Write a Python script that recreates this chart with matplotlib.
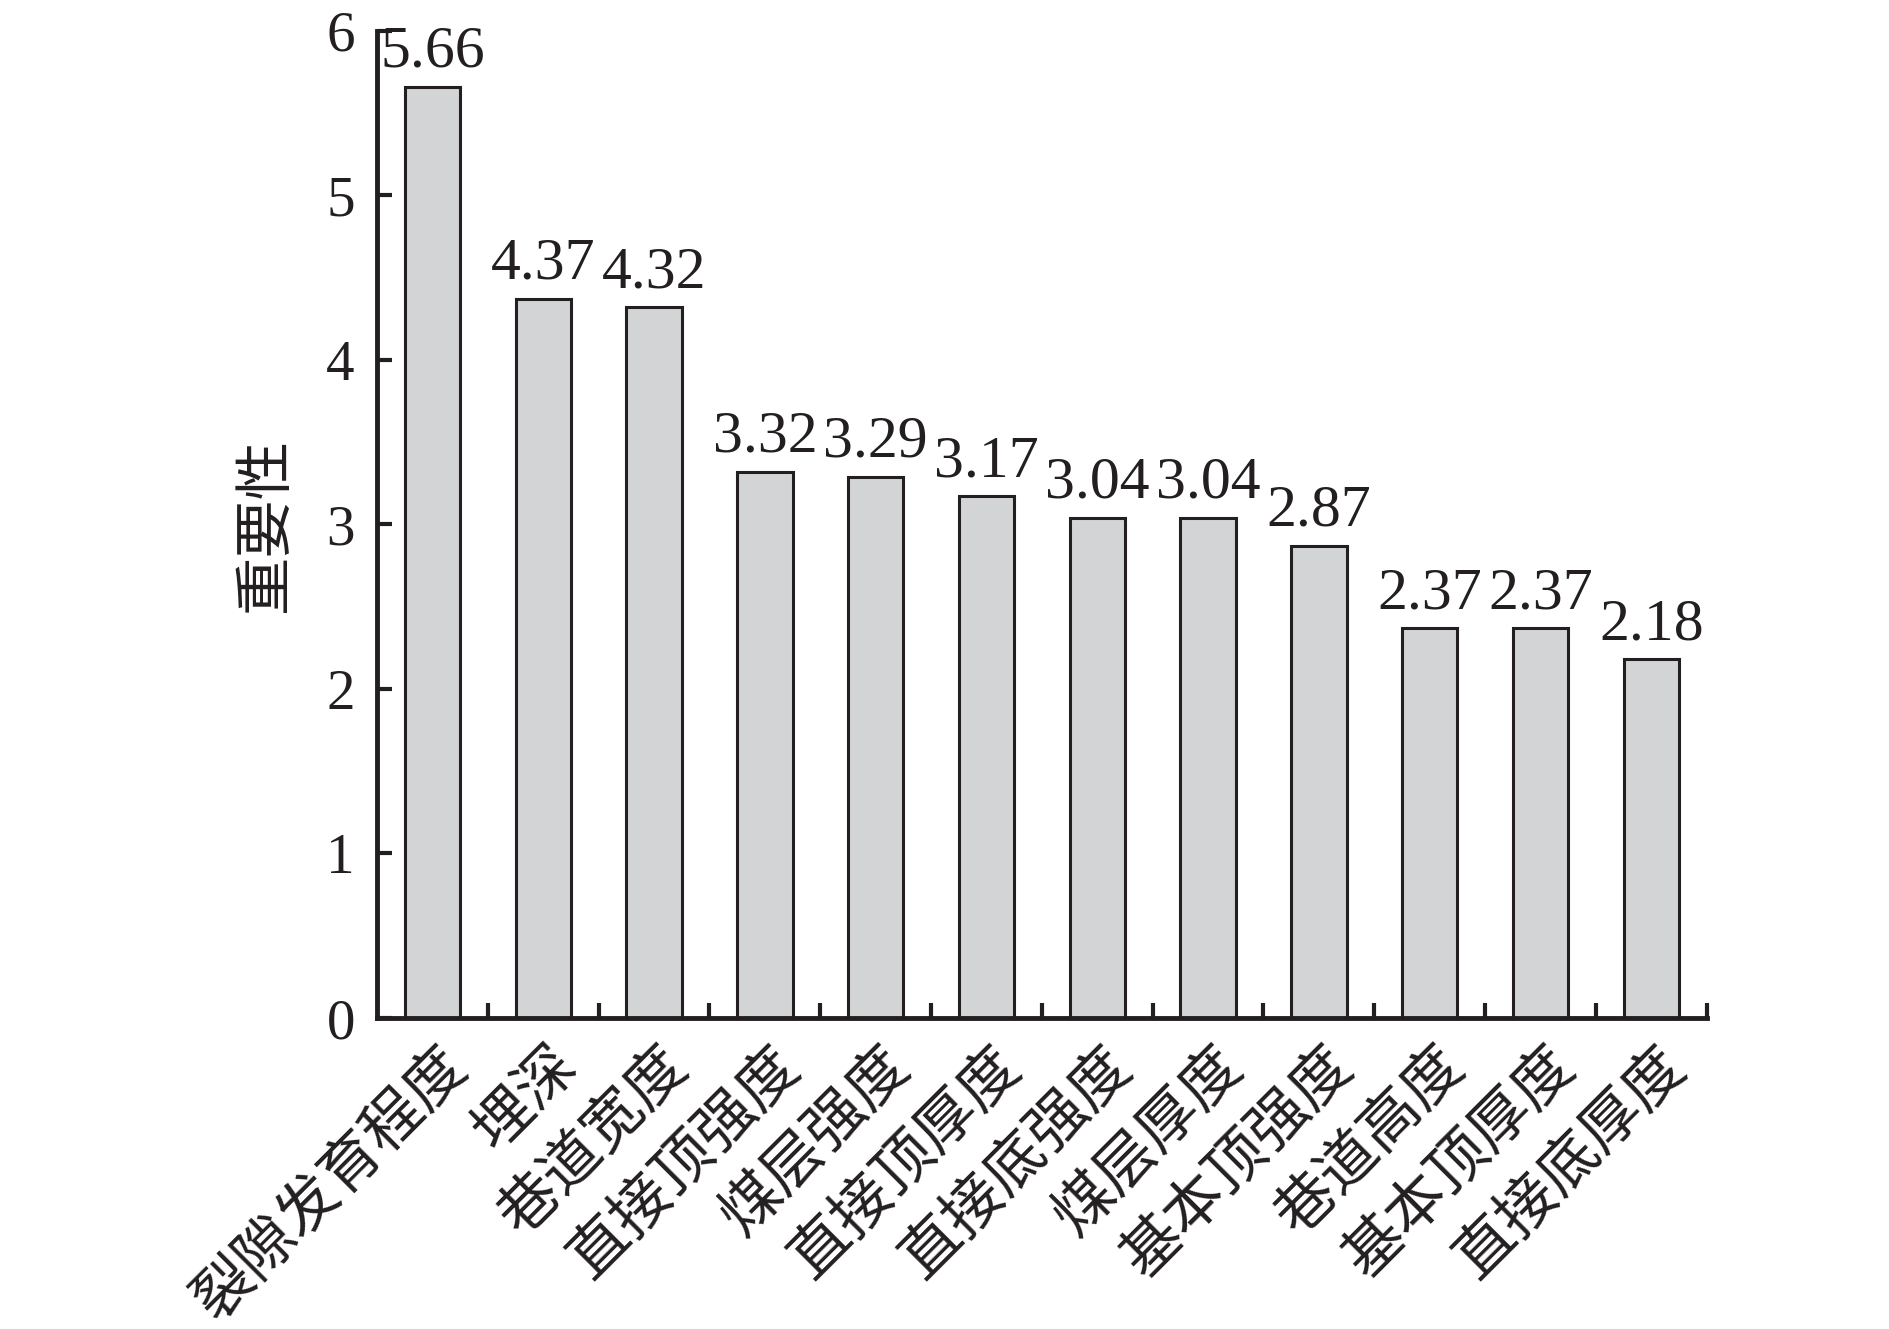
import matplotlib
matplotlib.use("Agg")
import matplotlib.pyplot as plt
import numpy as np

categories = ["裂隙发育程度", "埋深", "巷道宽度", "直接顶强度", "煤层强度", "直接顶厚度",
              "直接底强度", "煤层厚度", "基本顶强度", "巷道高度", "基本顶厚度", "直接底厚度"]
values = [5.66, 4.37, 4.32, 3.32, 3.29, 3.17, 3.04, 3.04, 2.87, 2.37, 2.37, 2.18]
yticks = [0, 1, 2, 3, 4, 5, 6]
ylabel = "重要性"

num_font = ["Liberation Serif", "DejaVu Serif"]
cjk_font = ["Noto Sans CJK SC", "DejaVu Sans"]
dark = "#231f20"

fig = plt.figure(figsize=(18.9, 13.29), dpi=100)
ax = fig.add_axes([0.1995, 0.234, 0.7035, 0.743])

x = np.arange(len(categories))
bars = ax.bar(x, values, width=0.5, color="#d3d4d6", edgecolor=dark, linewidth=2.2, zorder=2)

labels = ax.bar_label(bars, labels=[f"{v:.2f}" for v in values], padding=5,
                      fontsize=43, family=num_font, color=dark)

ax.set_xlim(-0.5, len(categories) - 0.5)
ax.set_ylim(0, 6)
ax.set_yticks(yticks)
ax.set_yticklabels([str(t) for t in yticks], family=num_font, fontsize=41, color=dark)

ax.set_xticks(x)
ax.set_xticklabels([])
ax.tick_params(axis="x", which="major", length=0)
ax.set_xticks(np.arange(0.5, len(categories), 1.0), minor=True)
ax.tick_params(axis="x", which="minor", direction="in", length=11, width=3, color=dark)
ax.tick_params(axis="y", direction="in", length=11, width=3, color=dark, pad=16)

for i, c in enumerate(categories):
    ax.annotate(c, xy=(i, 0), xycoords=("data", "axes fraction"),
                xytext=(18, -28), textcoords="offset points",
                rotation=45, rotation_mode="anchor", ha="right", va="center",
                fontsize=43, family=cjk_font, color=dark)

for s in ["top", "right"]:
    ax.spines[s].set_visible(False)
for s in ["left", "bottom"]:
    ax.spines[s].set_linewidth(3.5)
    ax.spines[s].set_color(dark)

ax.set_ylabel(ylabel, family=cjk_font, fontsize=42, color=dark, labelpad=22)

fig.savefig("out.png", dpi=100, facecolor="white")
